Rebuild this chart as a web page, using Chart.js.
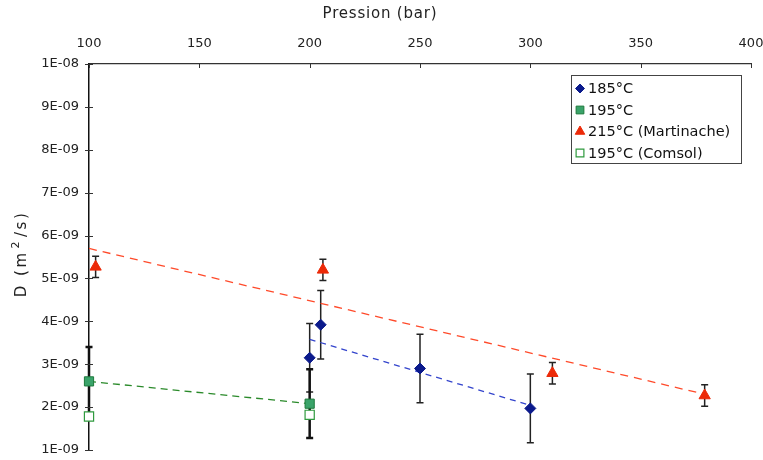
<!DOCTYPE html>
<html>
<head>
<meta charset="utf-8">
<script src="https://cdn.jsdelivr.net/npm/chart.js@4/dist/chart.umd.min.js"></script>
<style>
  html, body { margin: 0; padding: 0; background: #fff; }
  #wrap { width: 763px; height: 460px; position: relative; }
</style>
</head>
<body>
<div id="wrap"><canvas id="c" width="763" height="460"></canvas></div>
<script>
// ---- Data (D values in units of 1E-09 m²/s) ----
const pressure185 = [200, 205, 250, 300];
const d185 = [3.15, 3.92, 2.90, 1.97];
const err185 = [0.80, 0.80, 0.80, 0.80];

const pressure195 = [100, 200];
const d195 = [2.60, 2.08];
const err195 = [0.80, 0.80];

const pressure215 = [103, 206, 310, 379];
const d215 = [5.27, 5.20, 2.79, 2.27];
const err215 = [0.25, 0.25, 0.25, 0.25];

const pressureComsol = [100, 200];
const dComsol = [1.78, 1.82];

// trend lines (endpoints)
const trend185X = [200, 300];
const trend185Y = [3.58, 2.04];
const trend195X = [100, 200];
const trend195Y = [2.60, 2.08];
const trend215X = [100, 379];
const trend215Y = [5.70, 2.30];

const xTickValues = [100, 150, 200, 250, 300, 350, 400];
const yTickValues = [1, 2, 3, 4, 5, 6, 7, 8, 9, 10];
const seriesLabels = ['185°C', '195°C', '215°C (Martinache)', '195°C (Comsol)'];
const xTitle = 'Pression (bar)';
const yTitleParts = ['D (m', '2', '/s)'];

const FONT = "'DejaVu Sans', Verdana, sans-serif";

function pts(xs, ys) { return xs.map((x, i) => ({ x: x, y: ys[i] })); }

const errorBarPlugin = {
  id: 'errorBars',
  beforeDatasetsDraw(chart) {
    const ctx = chart.ctx;
    const xs = chart.scales.x, ys = chart.scales.y;
    chart.data.datasets.forEach((ds) => {
      if (!ds.errors) return;
      ctx.save();
      ctx.strokeStyle = ds.errorColor || '#111';
      ctx.lineWidth = ds.errorWidth || 1.5;
      ds.data.forEach((p, i) => {
        const e = ds.errors[i];
        const px = xs.getPixelForValue(p.x);
        const yTop = ys.getPixelForValue(p.y + e);
        const yBot = ys.getPixelForValue(p.y - e);
        const cap = 3.5;
        ctx.beginPath();
        ctx.moveTo(px, yTop); ctx.lineTo(px, yBot);
        ctx.moveTo(px - cap, yTop); ctx.lineTo(px + cap, yTop);
        ctx.moveTo(px - cap, yBot); ctx.lineTo(px + cap, yBot);
        ctx.stroke();
      });
      ctx.restore();
    });
  }
};

const tickMarkPlugin = {
  id: 'tickMarks',
  afterDraw(chart) {
    const ctx = chart.ctx;
    const xs = chart.scales.x, ys = chart.scales.y;
    const area = chart.chartArea;
    ctx.save();
    ctx.strokeStyle = '#333';
    ctx.lineWidth = 1;
    xTickValues.forEach(v => {
      const px = Math.round(xs.getPixelForValue(v)) + 0.5;
      ctx.beginPath();
      ctx.moveTo(px, area.top);
      ctx.lineTo(px, area.top + 4);
      ctx.stroke();
    });
    yTickValues.forEach(v => {
      const py = Math.round(ys.getPixelForValue(v)) + 0.5;
      ctx.beginPath();
      ctx.moveTo(area.left - 4, py);
      ctx.lineTo(area.left + 4, py);
      ctx.stroke();
    });
    ctx.restore();
  }
};

const titlesPlugin = {
  id: 'axisTitles',
  afterDraw(chart) {
    const ctx = chart.ctx;
    const area = chart.chartArea;
    ctx.save();
    ctx.fillStyle = '#222';
    ctx.textBaseline = 'middle';
    // x title (top), centered on canvas width
    ctx.font = '15px ' + FONT;
    ctx.letterSpacing = '0.8px';
    ctx.textAlign = 'center';
    ctx.fillText(xTitle, 380, 14);
    // y title, rotated
    ctx.translate(21, 254);
    ctx.rotate(-Math.PI / 2);
    ctx.textAlign = 'left';
    ctx.letterSpacing = '2.5px';
    const big = '15px ' + FONT, small = '11px ' + FONT;
    ctx.font = big; const w1 = ctx.measureText(yTitleParts[0]).width;
    ctx.font = small; const w2 = ctx.measureText(yTitleParts[1]).width;
    ctx.font = big; const w3 = ctx.measureText(yTitleParts[2]).width;
    const gap = 2;
    const total = w1 + gap + w2 + gap + w3;
    let x = -total / 2;
    ctx.font = big; ctx.fillText(yTitleParts[0], x, 1); x += w1 + gap;
    ctx.font = small; ctx.fillText(yTitleParts[1], x, -5); x += w2 + gap;
    ctx.font = big; ctx.fillText(yTitleParts[2], x, 1);
    ctx.restore();
  }
};

const legendBoxPlugin = {
  id: 'legendBox',
  afterDraw(chart) {
    const ctx = chart.ctx;
    const bx = 571, by = 75.5, bw = 170, bh = 88;
    ctx.save();
    ctx.fillStyle = '#fff';
    ctx.fillRect(bx, by, bw, bh);
    ctx.strokeStyle = '#444';
    ctx.lineWidth = 1;
    ctx.strokeRect(bx + 0.5, by, bw, bh);
    ctx.font = '14.5px ' + FONT;
    ctx.textBaseline = 'middle';
    const rowY = [88.5, 110, 131.5, 153];
    for (let i = 0; i < 4; i++) {
      const ds = chart.data.datasets[i];
      ctx.save();
      ctx.fillStyle = ds.backgroundColor;
      ctx.strokeStyle = ds.borderColor;
      ctx.lineWidth = ds.pointBorderWidth || 1;
      Chart.helpers.drawPoint(ctx, {
        pointStyle: ds.pointStyle,
        radius: ds.legendRadius,
        rotation: 0,
        borderWidth: ds.pointBorderWidth || 1
      }, 580, rowY[i]);
      ctx.restore();
      ctx.fillStyle = '#111';
      ctx.fillText(seriesLabels[i], 588, rowY[i] + 1);
    }
    ctx.restore();
  }
};

new Chart(document.getElementById('c'), {
  type: 'scatter',
  data: {
    datasets: [
      {
        label: seriesLabels[0], data: pts(pressure185, d185), errors: err185,
        pointStyle: 'rectRot', pointRadius: 5.5, legendRadius: 4.5,
        backgroundColor: '#0b1a8c', borderColor: '#0b1a8c', pointBorderWidth: 1,
        errorColor: '#222', errorWidth: 1.5, clip: false
      },
      {
        label: seriesLabels[1], data: pts(pressure195, d195), errors: err195,
        pointStyle: 'rect', pointRadius: 6.5, legendRadius: 5.5,
        backgroundColor: '#3aa36a', borderColor: '#1e7a3c', pointBorderWidth: 1,
        errorColor: '#111', errorWidth: 2.5, clip: false
      },
      {
        label: seriesLabels[2], data: pts(pressure215, d215), errors: err215,
        pointStyle: 'triangle', pointRadius: 6.5, legendRadius: 5.5,
        backgroundColor: '#ec2a08', borderColor: '#ec2a08', pointBorderWidth: 1,
        errorColor: '#222', errorWidth: 1.5, clip: false
      },
      {
        label: seriesLabels[3], data: pts(pressureComsol, dComsol),
        pointStyle: 'rect', pointRadius: 6.5, legendRadius: 5.5,
        backgroundColor: '#ffffff', borderColor: '#2f9a3e', pointBorderWidth: 1.2,
        clip: false
      },
      {
        type: 'line', label: 'trend185', data: pts(trend185X, trend185Y),
        borderColor: '#3344cc', borderWidth: 1.3, borderDash: [6, 5],
        pointRadius: 0, showLine: true, fill: false
      },
      {
        type: 'line', label: 'trend195', data: pts(trend195X, trend195Y),
        borderColor: '#2a8a2a', borderWidth: 1.3, borderDash: [7, 5],
        pointRadius: 0, showLine: true, fill: false
      },
      {
        type: 'line', label: 'trend215', data: pts(trend215X, trend215Y),
        borderColor: '#ff4a2a', borderWidth: 1.3, borderDash: [8, 6],
        pointRadius: 0, showLine: true, fill: false
      }
    ]
  },
  options: {
    responsive: false,
    animation: false,
    events: [],
    layout: { padding: { left: 0, right: 12, top: 0, bottom: 10 } },
    plugins: {
      legend: { display: false },
      tooltip: { enabled: false },
      title: { display: false }
    },
    scales: {
      x: {
        type: 'linear', position: 'top', min: 100, max: 400,
        afterBuildTicks: s => { s.ticks = xTickValues.map(v => ({ value: v })); },
        afterFit: s => { s.height = 64; s.paddingLeft = 0; s.paddingRight = 0; },
        ticks: { color: '#222', font: { family: FONT, size: 13 }, padding: 13, maxRotation: 0 },
        grid: { display: true, drawOnChartArea: false, drawTicks: false },
        border: { display: true, color: '#333', width: 1.2 }
      },
      y: {
        type: 'linear', min: 1, max: 10,
        afterBuildTicks: s => { s.ticks = yTickValues.map(v => ({ value: v })); },
        afterFit: s => { s.width = 89; s.paddingTop = 0; s.paddingBottom = 0; },
        ticks: {
          color: '#222', font: { family: FONT, size: 13 }, padding: 10,
          callback: v => (v === 10 ? '1E-08' : v + 'E-09')
        },
        grid: { display: true, drawOnChartArea: false, drawTicks: false },
        border: { display: true, color: '#111', width: 1.5 }
      }
    }
  },
  plugins: [errorBarPlugin, tickMarkPlugin, titlesPlugin, legendBoxPlugin]
});
</script>
</body>
</html>
